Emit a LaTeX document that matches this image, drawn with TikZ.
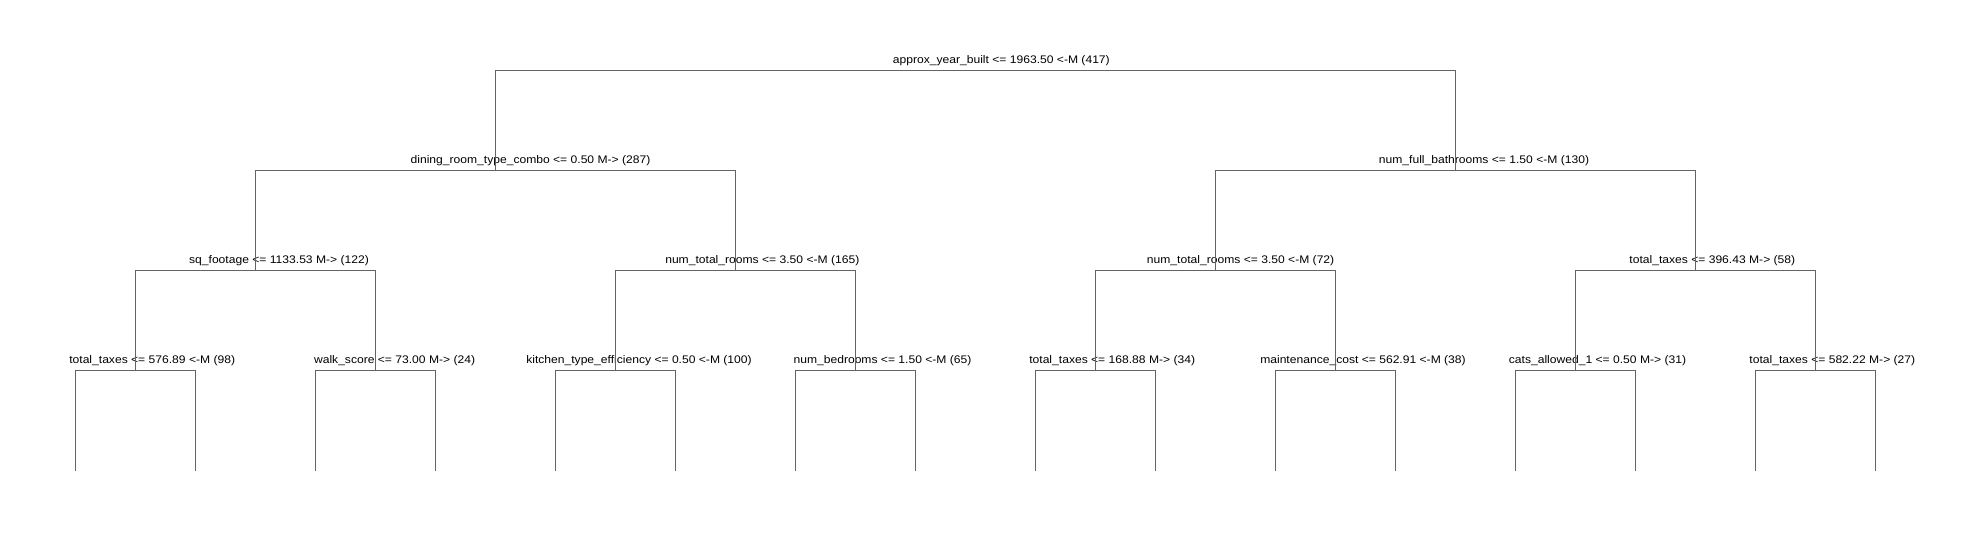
\documentclass[tikz,border=0pt]{standalone}
\usepackage{fontspec}
\setmainfont{Liberation Sans}[FakeStretch=1.1]
\definecolor{edgegray}{RGB}{100,100,100}
\begin{document}
\begin{tikzpicture}[x=1pt,y=-1pt,
  edge/.style={draw=edgegray,line width=1pt},
  lbl/.style={anchor=base,inner sep=0pt,outer sep=0pt,font=\fontsize{11}{13}\selectfont,text=black}]
\useasboundingbox[fill=white] (0,0) rectangle (1983,540);
% split points
\coordinate (root) at (975.3,70.7);
\coordinate (dn) at (495.3,170.7);
\coordinate (nf) at (1455.3,170.7);
\coordinate (sq) at (255.3,270.7);
\coordinate (ta) at (735.3,270.7);
\coordinate (tb) at (1215.3,270.7);
\coordinate (tx) at (1695.3,270.7);
\coordinate (a1) at (135.3,370.7);
\coordinate (a2) at (375.3,370.7);
\coordinate (a3) at (615.3,370.7);
\coordinate (a4) at (855.3,370.7);
\coordinate (a5) at (1095.3,370.7);
\coordinate (a6) at (1335.3,370.7);
\coordinate (a7) at (1575.3,370.7);
\coordinate (a8) at (1815.3,370.7);
% leaves
\foreach \k in {0,...,15}{\coordinate (l\k) at ({75.3+120*\k},470.7);}
% labels
\node[lbl] (troot) at (1001.3,63.4) {approx\_year\_built <= 1963.50 <-M (417)};
\node[lbl] (tdn) at (530.5,163.4) {dining\_room\_type\_combo <= 0.50 M-> (287)};
\node[lbl] (tnf) at (1484,163.4) {num\_full\_bathrooms <= 1.50 <-M (130)};
\node[lbl] (tsq) at (279,263.4) {sq\_footage <= 1133.53 M-> (122)};
\node[lbl] (tta) at (762.3,263.4) {num\_total\_rooms <= 3.50 <-M (165)};
\node[lbl] (ttb) at (1240.6,263.4) {num\_total\_rooms <= 3.50 <-M (72)};
\node[lbl] (ttx) at (1712.3,263.4) {total\_taxes <= 396.43 M-> (58)};
\node[lbl] (ta1) at (152.2,363.4) {total\_taxes <= 576.89 <-M (98)};
\node[lbl] (ta2) at (394.6,363.4) {walk\_score <= 73.00 M-> (24)};
\node[lbl] (ta3) at (639,363.4) {kitchen\_type\_efficiency <= 0.50 <-M (100)};
\node[lbl] (ta4) at (882.5,363.4) {num\_bedrooms <= 1.50 <-M (65)};
\node[lbl] (ta5) at (1112.2,363.4) {total\_taxes <= 168.88 M-> (34)};
\node[lbl] (ta6) at (1363,363.4) {maintenance\_cost <= 562.91 <-M (38)};
\node[lbl] (ta7) at (1597.5,363.4) {cats\_allowed\_1 <= 0.50 M-> (31)};
\node[lbl] (ta8) at (1832.3,363.4) {total\_taxes <= 582.22 M-> (27)};
% edges
\draw[edge] (dn) |- (root) -| (nf);
\draw[edge] (sq) |- (dn) -| (ta);
\draw[edge] (tb) |- (nf) -| (tx);
\draw[edge] (a1) |- (sq) -| (a2);
\draw[edge] (a3) |- (ta) -| (a4);
\draw[edge] (a5) |- (tb) -| (a6);
\draw[edge] (a7) |- (tx) -| (a8);
\draw[edge] (l0) |- (a1) -| (l1);
\draw[edge] (l2) |- (a2) -| (l3);
\draw[edge] (l4) |- (a3) -| (l5);
\draw[edge] (l6) |- (a4) -| (l7);
\draw[edge] (l8) |- (a5) -| (l9);
\draw[edge] (l10) |- (a6) -| (l11);
\draw[edge] (l12) |- (a7) -| (l13);
\draw[edge] (l14) |- (a8) -| (l15);
\end{tikzpicture}
\end{document}
